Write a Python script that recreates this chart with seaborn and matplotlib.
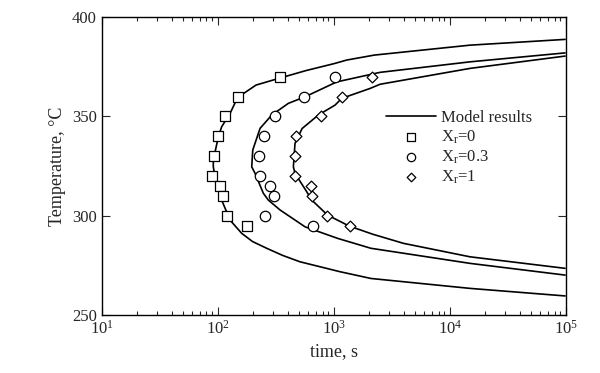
import numpy as np
import pandas as pd
import matplotlib
matplotlib.use("Agg")
import matplotlib.pyplot as plt
import seaborn as sns
from matplotlib.ticker import LogLocator, NullFormatter, MultipleLocator

sns.set_style("ticks")
plt.rcParams['font.family'] = ['Liberation Serif', 'DejaVu Serif']
plt.rcParams['mathtext.fontset'] = 'custom'
plt.rcParams['mathtext.rm'] = 'Liberation Serif'
plt.rcParams['mathtext.it'] = 'Liberation Serif'

# ---- model curves (log10 of time, temperature), traced along each C-curve ----
logt_m0 = [4.994, 4.175, 3.350, 3.112, 3.003, 2.761, 2.546, 2.330, 2.171, 2.106, 2.034,
           2.005, 1.962, 1.962, 1.977, 2.034, 2.106, 2.207, 2.300, 2.422, 2.560, 2.709,
           3.054, 3.320, 4.175, 4.994]
T_m0 = [388.8, 385.9, 380.9, 378.4, 376.6, 373.1, 369.5, 365.8, 359.5, 351.5, 344.8,
        339.7, 328.0, 324.6, 319.6, 307.9, 297.8, 291.1, 287.0, 283.6, 280.0, 276.8,
        271.8, 268.4, 263.4, 259.6]

logt_m03 = [4.994, 4.175, 3.399, 3.026, 2.753, 2.609, 2.466, 2.365, 2.302, 2.293, 2.322,
            2.393, 2.436, 2.537, 2.753, 3.033, 3.320, 4.175, 4.994]
T_m03 = [382.0, 377.5, 372.2, 367.4, 359.9, 356.6, 350.7, 344.0, 333.1, 324.6, 321.3,
         311.3, 307.9, 302.9, 294.4, 288.6, 283.6, 276.0, 270.1]

logt_m1 = [4.994, 4.175, 3.399, 3.313, 3.069, 3.011, 2.867, 2.727, 2.666, 2.652, 2.666,
           2.767, 2.810, 2.947, 3.133, 3.335, 3.600, 4.175, 4.994]
T_m1 = [380.4, 374.2, 366.2, 364.1, 359.1, 355.7, 350.7, 343.9, 336.4, 324.6, 321.3,
        312.1, 307.9, 300.3, 294.8, 290.7, 286.1, 279.3, 273.5]

# ---- experimental data ----
t_x0 = [344, 151, 116, 101, 92, 89, 105, 110, 120, 180]
T_x0 = [370, 360, 350, 340, 330, 320, 315, 310, 300, 295]

t_x03 = [1026, 558, 312, 252, 227, 232, 283, 306, 256, 659]
T_x03 = [370, 360, 350, 340, 330, 320, 315, 310, 300, 295]

t_x1 = [2130, 1186, 778, 473, 464, 464, 631, 646, 871, 1380]
T_x1 = [370, 360, 350, 340, 330, 320, 315, 310, 300, 295]

fig = plt.figure(figsize=(6.0, 3.73), dpi=100)
ax = fig.add_axes([0.1695, 0.1555, 0.7735, 0.7985])

curves = [(logt_m0, T_m0, "Model results"), (logt_m03, T_m03, "_m2"), (logt_m1, T_m1, "_m3")]
for lt, T, lab in curves:
    df = pd.DataFrame({"t": 10 ** np.array(lt), "T": T})
    sns.lineplot(data=df, x="t", y="T", sort=False, estimator=None, color="black",
                 linewidth=1.2, ax=ax, label=lab)

pts = [(t_x0, T_x0, "s", 7.5, "X$_{\\mathrm{r}}$=0"),
       (t_x03, T_x03, "o", 7.5, "X$_{\\mathrm{r}}$=0.3"),
       (t_x1, T_x1, "D", 5.5, "X$_{\\mathrm{r}}$=1")]
for t, T, m, s, lab in pts:
    df = pd.DataFrame({"t": t, "T": T})
    sns.scatterplot(data=df, x="t", y="T", marker=m, s=s ** 2, facecolor="white",
                    edgecolor="black", linewidth=0.9, ax=ax, label=lab, zorder=3)

ax.set_xscale("log")
ax.set_xlim(10, 1e5)
ax.set_ylim(250, 400)
ax.yaxis.set_major_locator(MultipleLocator(50))
ax.xaxis.set_major_locator(LogLocator(base=10, numticks=10))
ax.xaxis.set_minor_locator(LogLocator(base=10, subs=np.arange(2, 10), numticks=20))
ax.xaxis.set_minor_formatter(NullFormatter())
ax.tick_params(which="both", direction="in", top=True, right=True, labelsize=12, width=0.8)
ax.tick_params(which="major", length=6)
ax.tick_params(which="minor", length=3)
for sp in ax.spines.values():
    sp.set_linewidth(1.0)
    sp.set_color("black")

ax.set_xlabel("time, s", fontsize=13)
ax.set_ylabel("Temperature, \u00b0C", fontsize=13)

handles, labels = ax.get_legend_handles_labels()
leg = ax.legend(handles, labels, loc="upper left", bbox_to_anchor=(0.598, 0.71), frameon=False,
                fontsize=12, handlelength=3.0, handletextpad=0.3, labelspacing=0.15,
                borderaxespad=0, markerscale=0.8)

fig.savefig("out.png", dpi=100)
